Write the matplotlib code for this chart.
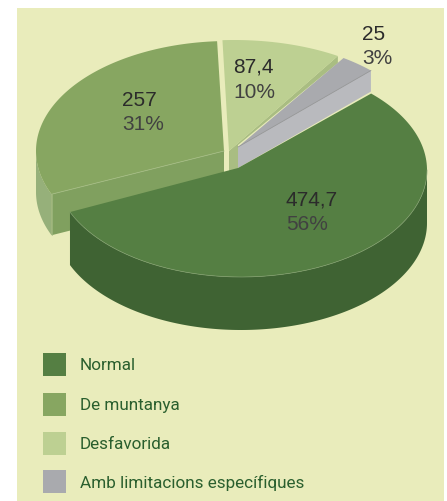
import numpy as np
import matplotlib
matplotlib.use("Agg")
import matplotlib.pyplot as plt
from matplotlib.patches import Rectangle, Polygon

categories = ["Normal", "De muntanya", "Desfavorida", "Amb limitacions específiques"]
values = [474.7, 257, 87.4, 25]
value_labels = ["474,7", "257", "87,4", "25"]
percent_labels = ["56%", "31%", "10%", "3%"]

top_colors = ["#557f43", "#87a661", "#bdd092", "#a9aaae"]
cut_colors = ["#3f6333", "#80a05f", "#a9bd82", "#b9babe"]
wall_colors = ["#3f6333", "#96b07a", "#a9bd82", "#b9babe"]

# per-slice ellipse geometry in pixels (perspective differs slightly per slice)
centers = [(241, 171), (229, 152), (234, 136), (238, 148)]
radii = [(186, 107), (193, 110), (187, 95), (190, 107)]
apexes = [(238, 169), (224, 152), (229, 152), (238, 148)]
depths = [53, 41, 7, 21]
START = 45.6

fig = plt.figure(figsize=(4.47, 5.02), dpi=100)
ax = fig.add_axes([0, 0, 1, 1])
ax.set_xlim(0, 447)
ax.set_ylim(502, 0)
ax.axis("off")
ax.add_patch(Rectangle((17, 9), 427, 493, fc="#e9ecbb", ec="none", zorder=0))

sweeps = np.array(values) / sum(values) * 360
ends = START - np.cumsum(sweeps)
starts = ends + sweeps


def arc(i, a0, a1, dy=0, n=160):
    c, (rx, ry) = centers[i], radii[i]
    t = np.radians(np.linspace(a0, a1, n))
    return np.column_stack([c[0] + rx * np.cos(t), c[1] - ry * np.sin(t) + dy])


def point(i, a):
    return arc(i, a, a, n=1)[0]


# De muntanya (back left)
i = 1
e = point(i, starts[i])
d = depths[i]
ax.add_patch(Polygon(np.vstack([arc(i, 180, starts[i] + 360), arc(i, starts[i] + 360, 180, d)]),
                     fc=wall_colors[i], ec="none", zorder=2))
ax.add_patch(Polygon([apexes[i], e, (e[0], e[1] + d), (apexes[i][0], apexes[i][1] + d)],
                     fc=cut_colors[i], ec="none", zorder=2.2))
ax.add_patch(Polygon(np.vstack([[apexes[i]], arc(i, starts[i], ends[i])]),
                     fc=top_colors[i], ec="none", zorder=2.5))
ax.plot([e[0], apexes[i][0]], [e[1], apexes[i][1]], color="#a3bb84", lw=0.6, zorder=2.6)
ax.plot([e[0], e[0]], [e[1], e[1] + d], color="#a3bb84", lw=0.5, zorder=2.6)

# Desfavorida (back)
i = 2
e = point(i, ends[i])
a = apexes[i]
gx = apexes[3][0]
ax.add_patch(Polygon([a, e, (e[0], e[1] + depths[i]), (gx, apexes[3][1] - 2), (gx, 172), (a[0], 172)],
                     fc=cut_colors[i], ec="none", zorder=3))
ax.add_patch(Polygon(np.vstack([[a], arc(i, starts[i], ends[i])]),
                     fc=top_colors[i], ec="none", zorder=3.5))

# Amb limitacions (small exploded slice)
i = 3
a = apexes[i]
e = point(i, ends[i])
d = depths[i]
ax.add_patch(Polygon([a, e, (e[0], e[1] + d), (a[0], a[1] + d)],
                     fc=cut_colors[i], ec="none", zorder=4))
ax.add_patch(Polygon(np.vstack([[a], arc(i, starts[i], ends[i])]),
                     fc=top_colors[i], ec="none", zorder=4.5))
ax.plot([a[0], e[0]], [a[1], e[1]], color="#8f9094", lw=0.5, zorder=4.6)

# Normal (front)
i = 0
d = depths[i]
ax.add_patch(Polygon(np.vstack([arc(i, 0, ends[i]), arc(i, ends[i], 0, d)]),
                     fc=wall_colors[i], ec="none", zorder=6))
ax.add_patch(Polygon(np.vstack([[apexes[i]], arc(i, starts[i], ends[i])]),
                     fc=top_colors[i], ec="none", zorder=6.5))
rim = arc(i, 0, ends[i])
ax.plot(rim[:, 0], rim[:, 1], color="#7f9d6e", lw=0.5, zorder=7)

label_xy = [(286, 200, 224.5), (122, 100, 124.5), (233, 67, 92.5), (362, 34, 58.5)]
for (x, y1, y2), v, p in zip(label_xy, value_labels, percent_labels):
    ax.text(x, y1, v, fontsize=15, family="Liberation Sans", color="#2b2b2b",
            va="center", ha="left", zorder=10)
    ax.text(x, y2, p, fontsize=15, family="Liberation Sans", color="#414141",
            va="center", ha="left", zorder=10)

legend_y = [365.5, 405, 444, 482.7]
for y, col, name in zip(legend_y, top_colors, categories):
    ax.add_patch(Rectangle((43, y - 11.5), 23, 23, fc=col, ec="none", zorder=5))
    ax.text(80, y + 0.5, name, fontsize=12.35, family="Roboto", color="#2a5f2e",
            va="center", ha="left", zorder=5)

fig.savefig("out.png", dpi=100)
